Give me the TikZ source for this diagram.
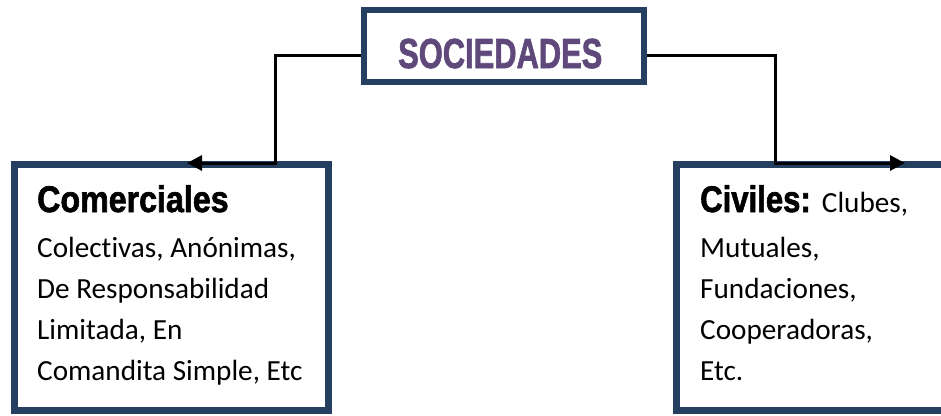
\documentclass[tikz,border=0pt]{standalone}
\usepackage{fontspec}
\usepackage{graphicx}
\usetikzlibrary{arrows.meta}
\newfontfamily\bodyfont{Carlito}[Ligatures=NoCommon]
\newfontfamily\headfont{Liberation Sans}[BoldFeatures={FakeBold=1.8}]
\definecolor{boxblue}{HTML}{243F60}
\definecolor{titlepurple}{HTML}{5F497A}
\tikzset{
  frame/.style={draw=boxblue, fill=white, inner sep=0pt, rectangle},
  conn/.style={draw=black, line width=3pt, -{Triangle[length=15pt,width=15pt]}},
  plain/.style={inner sep=0pt, anchor=base west},
}
\newcommand{\headtxt}[2]{\scalebox{#1}[1]{\headfont\bfseries #2}}
\begin{document}
\begin{tikzpicture}[x=1pt,y=-1pt]
\useasboundingbox (0,0) rectangle (941,415);
\clip (0,0) rectangle (941,415);
% boxes
\node[frame, line width=6pt, minimum width=280pt, minimum height=72pt] (soc) at (504,46) {};
\node[frame, line width=7pt, minimum width=314pt, minimum height=246pt] (com) at (171,287) {};
\node[frame, line width=7pt, minimum width=320pt, minimum height=246pt] (civ) at (836,287) {};
% connectors
\coordinate (lA) at (275,55);
\coordinate (ltip) at (187,163);
\coordinate (rA) at (775,55);
\coordinate (rtip) at (905,163);
\draw[conn] (soc.west |- lA) -- (lA) |- (ltip);
\draw[conn] (soc.east |- rA) -- (rA) |- (rtip);
% texts
\node[plain, text=titlepurple] (soct) at (398,68) {\fontsize{42}{42}\selectfont\headtxt{0.735}{SOCIEDADES}};
\node[plain] (comh) at (37,212) {\fontsize{37}{37}\selectfont\headtxt{0.87}{Comerciales}};
\node[plain] (comb) at (37,257) {\parbox[t]{300pt}{\bodyfont\fontsize{29.2}{41.3}\selectfont
Colectivas, Anónimas,\\
De Responsabilidad\\
Limitada, En\\
Comandita Simple, Etc}};
\node[plain] (civh) at (700,212) {\fontsize{37}{37}\selectfont\headtxt{0.84}{Civiles:} {\bodyfont\fontsize{29.2}{29}\selectfont Clubes,}};
\node[plain] (civb) at (700,257) {\parbox[t]{230pt}{\bodyfont\fontsize{29.2}{41.3}\selectfont
Mutuales,\\
Fundaciones,\\
Cooperadoras,\\
Etc.}};
\end{tikzpicture}
\end{document}
